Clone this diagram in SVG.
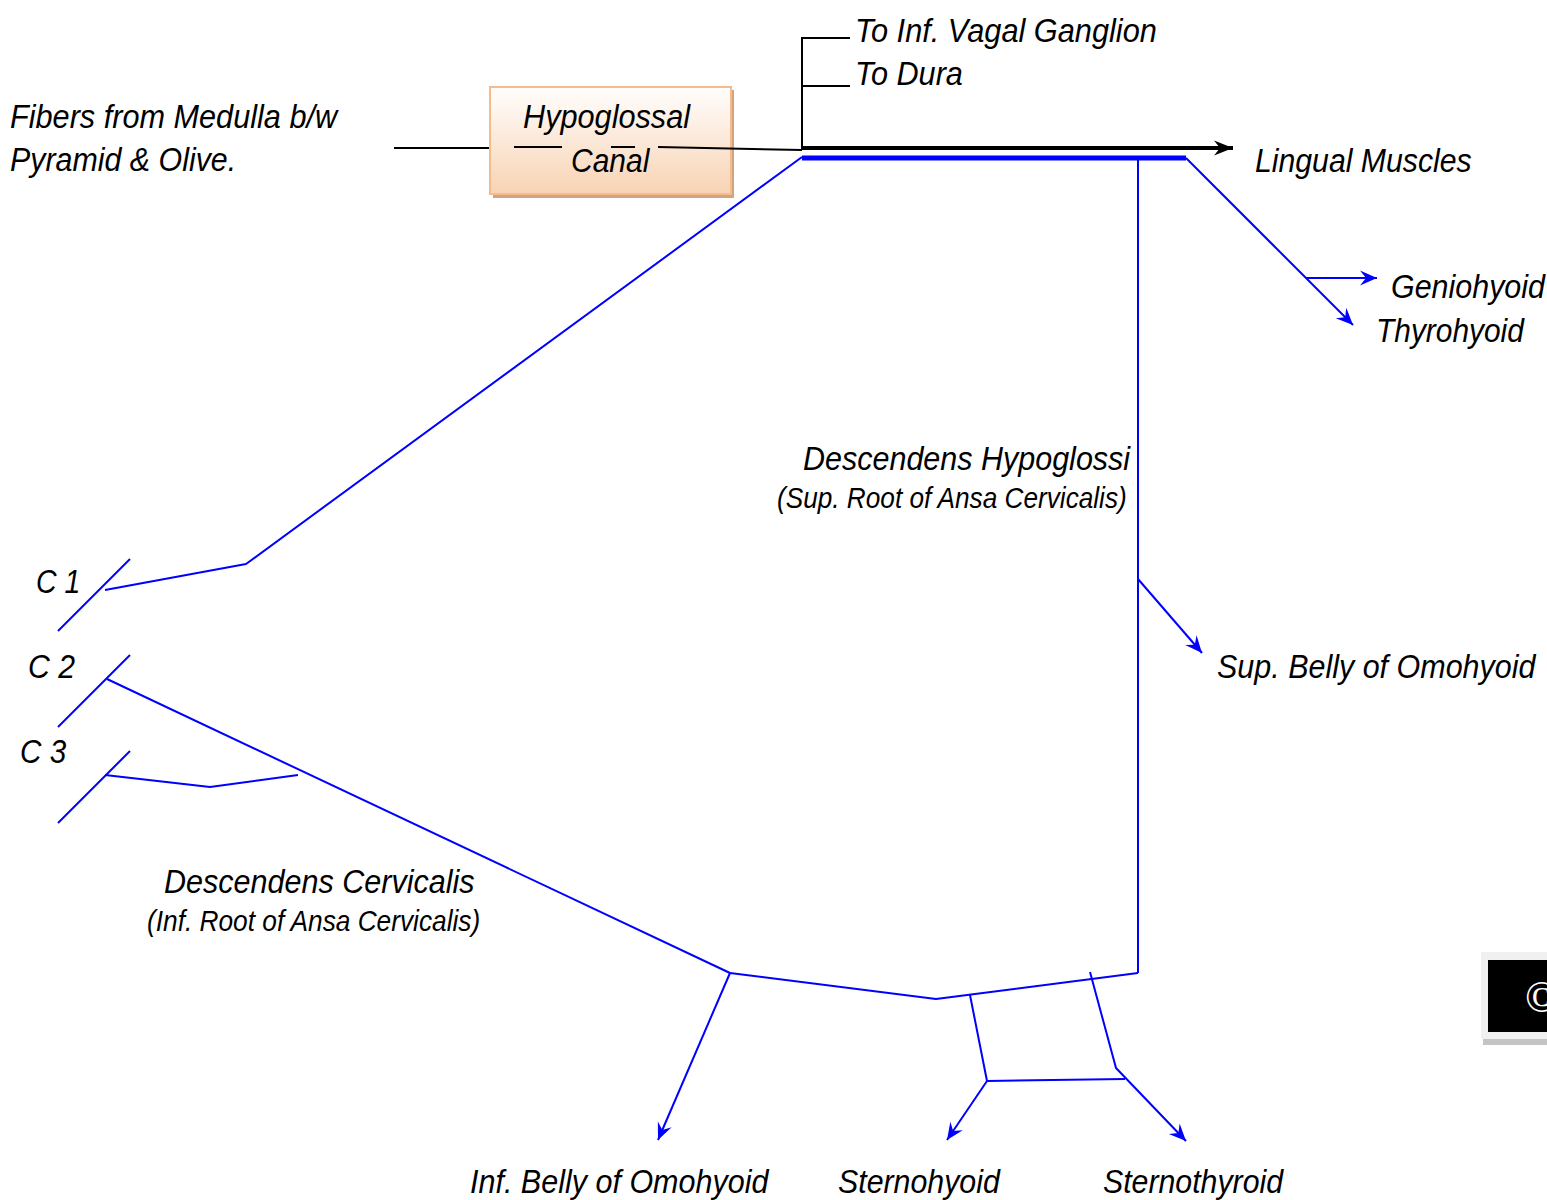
<svg xmlns="http://www.w3.org/2000/svg" width="1547" height="1200" viewBox="0 0 1547 1200">
  <defs>
    <linearGradient id="canalFill" x1="0" y1="0" x2="0" y2="1">
      <stop offset="0" stop-color="#fffefd"/>
      <stop offset="1" stop-color="#f8d3b4"/>
    </linearGradient>
    <marker id="headBlack" markerUnits="userSpaceOnUse" viewBox="-20 -10 22 20" markerWidth="22" markerHeight="20" refX="0" refY="0" orient="auto">
      <path d="M0,0 L-19,-7.5 L-13,0 L-19,7.5 z" fill="#000"/>
    </marker>
    <marker id="headBlue" markerUnits="userSpaceOnUse" viewBox="-18 -10 20 20" markerWidth="20" markerHeight="20" refX="0" refY="0" orient="auto">
      <path d="M0,0 L-17,-7.5 L-11,0 L-17,7.5 z" fill="#0000ff"/>
    </marker>
  </defs>
  <style>
    text { font-family: "Liberation Sans", Arial, sans-serif; font-style: italic; fill: #000; }
    .lbl { font-size: 34px; }
    .sub { font-size: 29px; }
    .blk { fill: none; stroke: #000; stroke-width: 2; }
    .nerve { fill: none; stroke: #0000ff; stroke-width: 2; stroke-linejoin: round; }
    .arrow { marker-end: url(#headBlue); }
    .badge-mark { font-family: "Liberation Serif", serif; font-style: normal; fill: #fff; font-size: 44px; }
  </style>

  <rect width="1547" height="1200" fill="#fff"/>

  <!-- Hypoglossal canal -->
  <g id="canal">
    <rect x="493" y="90" width="241" height="108" fill="#d2a47e"/>
    <rect x="490" y="87" width="241" height="107" fill="url(#canalFill)" stroke="#f5bb8b" stroke-width="2"/>
    <text class="lbl" transform="translate(523,128) scale(0.87,1)" textLength="192" lengthAdjust="spacingAndGlyphs">Hypoglossal</text>
    <text class="lbl" transform="translate(571,172) scale(0.87,1)" textLength="90" lengthAdjust="spacingAndGlyphs">Canal</text>
  </g>

  <g id="connectors">
    <!-- fibres entering and crossing the canal -->
    <line class="blk" x1="394" y1="148" x2="489" y2="148"/>
    <line class="blk" x1="514" y1="147" x2="562" y2="147"/>
    <line class="blk" x1="611" y1="147" x2="635" y2="147"/>
    <line class="blk" x1="658" y1="147" x2="802" y2="150"/>
    <!-- meningeal / vagal twigs -->
    <polyline class="blk" points="850,38 802,38 802,150"/>
    <line class="blk" x1="802" y1="86" x2="850" y2="86"/>
    <!-- hypoglossal trunk to the tongue -->
    <line x1="802" y1="148" x2="1233" y2="148" stroke="#000" stroke-width="4" marker-end="url(#headBlack)"/>
    <!-- C1 fibres running with the trunk -->
    <line x1="802" y1="158" x2="1186" y2="158" stroke="#0000ff" stroke-width="5"/>
    <polyline class="nerve" points="802,157 246,564 105,590"/>
    <!-- spinal roots -->
    <line class="nerve" x1="130" y1="559" x2="58" y2="631"/>
    <line class="nerve" x1="130" y1="655" x2="58" y2="727"/>
    <line class="nerve" x1="130" y1="751" x2="58" y2="823"/>
    <line class="nerve" x1="107" y1="679" x2="730" y2="973"/>
    <polyline class="nerve" points="105,775 210,787 298,775"/>
    <!-- geniohyoid / thyrohyoid -->
    <line class="nerve arrow" x1="1186" y1="158" x2="1353" y2="325"/>
    <line class="nerve arrow" x1="1306" y1="278" x2="1377" y2="278"/>
    <!-- descendens hypoglossi -->
    <line class="nerve" x1="1138" y1="158" x2="1138" y2="973"/>
    <line class="nerve arrow" x1="1138" y1="579" x2="1202" y2="653"/>
    <!-- ansa cervicalis loop -->
    <polyline class="nerve" points="730,973 936,999 1138,973"/>
    <line class="nerve arrow" x1="730" y1="973" x2="658" y2="1140"/>
    <polyline class="nerve" points="970,995 987,1081 1125,1079"/>
    <line class="nerve arrow" x1="987" y1="1081" x2="947" y2="1140"/>
    <polyline class="nerve arrow" points="1090,972 1116,1068 1186,1141"/>
  </g>

  <g id="medulla">
    <text class="lbl" transform="translate(10,128) scale(0.87,1)" textLength="376" lengthAdjust="spacingAndGlyphs">Fibers from Medulla b/w</text>
    <text class="lbl" transform="translate(10,171) scale(0.87,1)" textLength="260" lengthAdjust="spacingAndGlyphs">Pyramid &amp; Olive.</text>
  </g>
  <g id="vagal">
    <text class="lbl" transform="translate(855,42) scale(0.87,1)" textLength="347" lengthAdjust="spacingAndGlyphs">To Inf. Vagal Ganglion</text>
  </g>
  <g id="dura">
    <text class="lbl" transform="translate(855,85) scale(0.87,1)" textLength="124" lengthAdjust="spacingAndGlyphs">To Dura</text>
  </g>
  <g id="lingual">
    <text class="lbl" transform="translate(1255,172) scale(0.87,1)" textLength="249" lengthAdjust="spacingAndGlyphs">Lingual Muscles</text>
  </g>
  <g id="geniohyoid">
    <text class="lbl" transform="translate(1391,298) scale(0.87,1)" textLength="177" lengthAdjust="spacingAndGlyphs">Geniohyoid</text>
  </g>
  <g id="thyrohyoid">
    <text class="lbl" transform="translate(1376,342) scale(0.87,1)" textLength="170" lengthAdjust="spacingAndGlyphs">Thyrohyoid</text>
  </g>
  <g id="desc-hypoglossi">
    <text class="lbl" transform="translate(803,470) scale(0.87,1)" textLength="376" lengthAdjust="spacingAndGlyphs">Descendens Hypoglossi</text>
    <text class="sub" transform="translate(777,508) scale(0.87,1)" textLength="402" lengthAdjust="spacingAndGlyphs">(Sup. Root of Ansa Cervicalis)</text>
  </g>
  <g id="sup-belly">
    <text class="lbl" transform="translate(1217,678) scale(0.87,1)" textLength="366" lengthAdjust="spacingAndGlyphs">Sup. Belly of Omohyoid</text>
  </g>
  <g id="c1"><text class="lbl" transform="translate(36,593) scale(0.87,1)" textLength="51" lengthAdjust="spacingAndGlyphs">C 1</text></g>
  <g id="c2"><text class="lbl" transform="translate(28,678) scale(0.87,1)" textLength="54" lengthAdjust="spacingAndGlyphs">C 2</text></g>
  <g id="c3"><text class="lbl" transform="translate(20,763) scale(0.87,1)" textLength="53" lengthAdjust="spacingAndGlyphs">C 3</text></g>
  <g id="desc-cervicalis">
    <text class="lbl" transform="translate(164,893) scale(0.87,1)" textLength="357" lengthAdjust="spacingAndGlyphs">Descendens Cervicalis</text>
    <text class="sub" transform="translate(147,931) scale(0.87,1)" textLength="383" lengthAdjust="spacingAndGlyphs">(Inf. Root of Ansa Cervicalis)</text>
  </g>
  <g id="inf-belly">
    <text class="lbl" transform="translate(470,1193) scale(0.87,1)" textLength="343" lengthAdjust="spacingAndGlyphs">Inf. Belly of Omohyoid</text>
  </g>
  <g id="sternohyoid">
    <text class="lbl" transform="translate(838,1193) scale(0.87,1)" textLength="186" lengthAdjust="spacingAndGlyphs">Sternohyoid</text>
  </g>
  <g id="sternothyroid">
    <text class="lbl" transform="translate(1103,1193) scale(0.87,1)" textLength="207" lengthAdjust="spacingAndGlyphs">Sternothyroid</text>
  </g>

  <!-- copyright badge at the right edge -->
  <g id="badge">
    <rect x="1483" y="1039" width="64" height="6" fill="#c4c4c4"/>
    <rect x="1481" y="952" width="66" height="87" fill="#f0f0f0"/>
    <rect x="1488" y="960" width="59" height="72" fill="#000"/>
    <text class="badge-mark" x="1525" y="1012">©</text>
  </g>
</svg>
